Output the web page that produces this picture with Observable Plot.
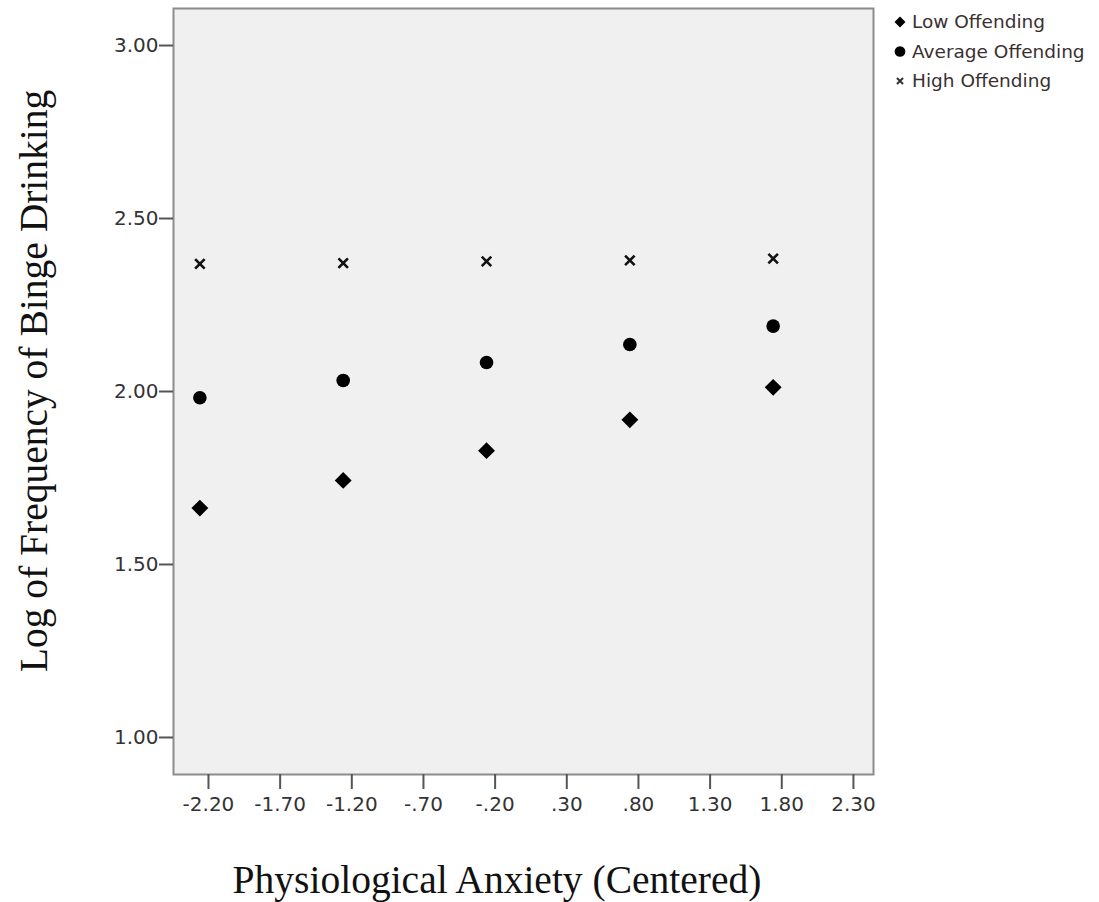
<!DOCTYPE html>
<html>
<head>
<meta charset="utf-8">
<script src="https://cdn.jsdelivr.net/npm/d3@7"></script>
<script src="https://cdn.jsdelivr.net/npm/@observablehq/plot@0.6"></script>
<style>
  html, body { margin: 0; padding: 0; background: #fff; }
  #chart { position: relative; width: 1099px; height: 902px; }
</style>
</head>
<body>
<div id="chart"></div>
<script>
// Data
const anxiety = [-2.26, -1.26, -0.26, 0.74, 1.74];
const lowOffending = [1.663, 1.743, 1.829, 1.918, 2.012];
const averageOffending = [1.982, 2.032, 2.084, 2.136, 2.189];
const highOffending = [2.369, 2.371, 2.376, 2.379, 2.384];
const seriesNames = ["Low Offending", "Average Offending", "High Offending"];
const xTicks = [-2.2, -1.7, -1.2, -0.7, -0.2, 0.3, 0.8, 1.3, 1.8, 2.3];
const yTicks = [1.0, 1.5, 2.0, 2.5, 3.0];

const fmt = v => {
  let s = Math.abs(v).toFixed(2);
  if (s.startsWith("0")) s = s.slice(1);
  return (v < 0 ? "-" : "") + s;
};

const low = anxiety.map((x, i) => ({x, y: lowOffending[i]}));
const avg = anxiety.map((x, i) => ({x, y: averageOffending[i]}));
const high = anxiety.map((x, i) => ({x, y: highOffending[i]}));

const tickFont = "DejaVu Sans, sans-serif";

const plot = Plot.plot({
  width: 1099,
  height: 902,
  marginLeft: 173,
  marginRight: 226,
  marginTop: 8,
  marginBottom: 128,
  style: {background: "transparent", fontFamily: tickFont},
  x: {domain: [-2.444, 2.44], ticks: xTicks, tickFormat: fmt, label: null},
  y: {domain: [0.893, 3.107], ticks: yTicks, tickFormat: fmt, label: null},
  marks: [
    Plot.frame({fill: "#f0f0f0", stroke: "#8c8c8c", strokeWidth: 2}),
    Plot.axisY({ticks: yTicks, tickFormat: fmt, tickSize: 14, tickPadding: 1, fontSize: 20, stroke: "#555", strokeWidth: 2, fill: "#333", label: null}),
    Plot.axisX({ticks: xTicks, tickFormat: fmt, tickSize: 15, tickPadding: 7, fontSize: 20, stroke: "#555", strokeWidth: 2, fill: "#333", label: null}),
    Plot.dot(high, {x: "x", y: "y", symbol: "times", r: 4.4, stroke: "#111", strokeWidth: 2.6}),
    Plot.dot(avg, {x: "x", y: "y", symbol: "circle", r: 6.8, fill: "#000"}),
    Plot.dot(low, {x: "x", y: "y", symbol: "diamond2", r: 7.6, fill: "#000"})
  ]
});

document.getElementById("chart").appendChild(plot);

// Axis titles and legend appended into the SVG
const svg = d3.select(plot);
svg.append("text")
  .attr("x", 497).attr("y", 893)
  .attr("text-anchor", "middle")
  .attr("font-family", "Liberation Serif, Times New Roman, serif")
  .attr("font-size", 39.5)
  .attr("fill", "#111")
  .text("Physiological Anxiety (Centered)");
svg.append("text")
  .attr("transform", "translate(47,381) rotate(-90)")
  .attr("text-anchor", "middle")
  .attr("font-family", "Liberation Serif, Times New Roman, serif")
  .attr("font-size", 39.5)
  .attr("fill", "#111")
  .text("Log of Frequency of Binge Drinking");

const legendSymbols = [
  {sym: d3.symbolSquare, rot: 45, size: 60, fill: "#000", stroke: "none", sw: 0},
  {sym: d3.symbolCircle, rot: 0, size: 90, fill: "#000", stroke: "none", sw: 0},
  {sym: d3.symbolTimes, rot: 0, size: 26, fill: "none", stroke: "#333", sw: 2}
];
const lg = svg.append("g").attr("transform", "translate(900,22)");
seriesNames.forEach((name, i) => {
  const s = legendSymbols[i];
  const g = lg.append("g").attr("transform", `translate(0,${i * 29.5})`);
  g.append("path")
    .attr("d", d3.symbol(s.sym, s.size)())
    .attr("transform", `rotate(${s.rot})`)
    .attr("fill", s.fill).attr("stroke", s.stroke).attr("stroke-width", s.sw);
  g.append("text")
    .attr("x", 12).attr("y", 0).attr("dy", "0.35em")
    .attr("text-anchor", "start")
    .attr("font-family", tickFont)
    .attr("font-size", 18.5)
    .attr("font-weight", 500)
    .attr("fill", "#3a3030")
    .text(name);
});
</script>
</body>
</html>
